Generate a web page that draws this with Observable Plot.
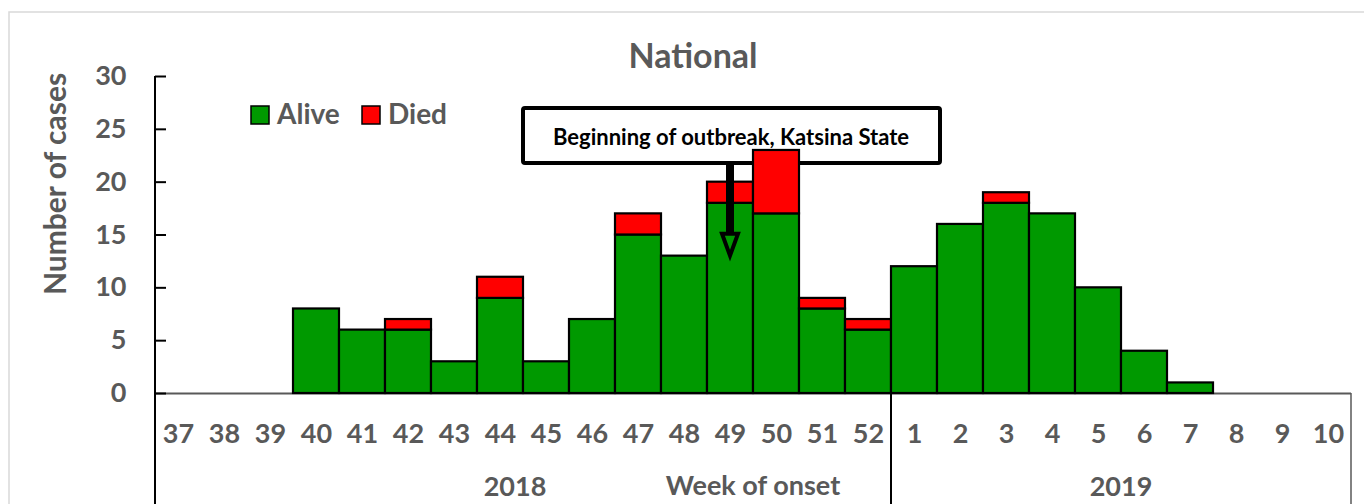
<!DOCTYPE html>
<html><head><meta charset="utf-8">
<script src="https://cdn.jsdelivr.net/npm/d3@7"></script>
<script src="https://cdn.jsdelivr.net/npm/@observablehq/plot@0.6"></script>
<style>body{margin:0;background:#fff}</style>
</head><body><div id="chart"></div>
<script>
const weeks = ["37","38","39","40","41","42","43","44","45","46","47","48","49","50","51","52","1","2","3","4","5","6","7","8","9","10"];
const alive = [0,0,0,8,6,6,3,9,3,7,15,13,18,17,8,6,12,16,18,17,10,4,1,0,0,0];
const died  = [0,0,0,0,0,1,0,2,0,0,2,0,2,6,1,1,0,0,1,0,0,0,0,0,0,0];
const statuses = ["Alive","Died"];
const colors = ["#009900","#ff0000"];
const yTicks = [0,5,10,15,20,25,30];
const yearLabels = ["2018","2019"];
const yearFirstWeek = ["37","1"];
const yearLastWeek = ["52","10"];
const titleText = "National";
const yLabel = "Number of cases";
const xLabel = "Week of onset";
const annotationText = "Beginning of outbreak, Katsina State";
const annotationWeek = "49";
const annotationTipValue = 13;

const rows = weeks.flatMap((w, i) => [
  {week: w, status: statuses[0], count: alive[i]},
  {week: w, status: statuses[1], count: died[i]}
]).filter(d => d.count > 0);

const gray = "#595959";
const font = "Lato, 'Open Sans', sans-serif";

const chart = Plot.plot({
  width: 1364, height: 504,
  marginLeft: 155, marginRight: 13, marginTop: 76, marginBottom: 111,
  style: {fontFamily: font, fontWeight: "bold", fontSize: "27px", color: gray, background: "white", overflow: "visible"},
  x: {domain: weeks, padding: 0, label: null},
  y: {domain: [0, 30], label: null},
  color: {domain: statuses, range: colors},
  marks: [
    Plot.ruleY([0], {stroke: gray, strokeWidth: 2}),
    Plot.barY(rows, {x: "week", y: "count", fill: "status", stroke: "black", strokeWidth: 2.2, className: "bars"}),
    Plot.axisX({tickSize: 0, tickPadding: 30, fontSize: 27, fontWeight: "bold", fill: gray}),
    Plot.axisY(yTicks, {tickSize: 0, tickPadding: 29, fontSize: 27, fontWeight: "bold", fill: gray}),
    Plot.tickY(yTicks, {y: d => d, x: () => weeks[0], insetRight: 35, stroke: "black", strokeWidth: 2})
  ]
});
document.getElementById("chart").append(chart);

const svg = d3.select(chart);
const xs = chart.scale("x");
const ys = chart.scale("y");
const bw = xs.bandwidth;
const x0 = xs.apply(weeks[0]);
const xEnd = xs.apply(weeks[weeks.length - 1]) + bw;
const yZero = ys.apply(0);
const yTop = ys.apply(30);

// annotation box (behind the bars)
const barsNode = chart.querySelector("g.bars") || chart.querySelector("g[aria-label='bar']");
const boxG = document.createElementNS("http://www.w3.org/2000/svg", "g");
chart.insertBefore(boxG, barsNode);
const box = d3.select(boxG);
box.append("rect").attr("x", 523).attr("y", 108).attr("width", 417).attr("height", 55).attr("rx", 2)
  .attr("fill", "white").attr("stroke", "black").attr("stroke-width", 4);
box.append("text").attr("x", 731).attr("y", 145).attr("text-anchor", "middle")
  .attr("font-family", font).attr("font-weight", "bold").attr("font-size", 22).attr("fill", "black").text(annotationText);

// outer chart border
svg.insert("rect", ":first-child").attr("x", 9).attr("y", 12).attr("width", 1500).attr("height", 600)
  .attr("fill", "none").attr("stroke", "#d9d9d9").attr("stroke-width", 1.5);

// y axis line extending down through category area
svg.append("line").attr("x1", x0).attr("x2", x0).attr("y1", yTop).attr("y2", 504)
  .attr("stroke", "black").attr("stroke-width", 2);
// year separators
const sepX = xs.apply(yearFirstWeek[1]);
svg.append("line").attr("x1", sepX).attr("x2", sepX).attr("y1", yZero).attr("y2", 504)
  .attr("stroke", "black").attr("stroke-width", 2);
svg.append("line").attr("x1", xEnd).attr("x2", xEnd).attr("y1", yZero).attr("y2", 504)
  .attr("stroke", gray).attr("stroke-width", 1.5);

// year labels
yearLabels.forEach((yl, i) => {
  const a = xs.apply(yearFirstWeek[i]);
  const b = xs.apply(yearLastWeek[i]) + bw;
  svg.append("text").attr("x", i === 0 ? (a + b) / 2 - 8 : (a + b) / 2).attr("y", 496)
    .attr("text-anchor", "middle").attr("font-family", font).attr("font-weight", "bold")
    .attr("font-size", 27).attr("fill", gray).text(yl);
});
// x label
svg.append("text").attr("x", (x0 + xEnd) / 2).attr("y", 495)
  .attr("text-anchor", "middle").attr("font-family", font).attr("font-weight", "bold")
  .attr("font-size", 27).attr("fill", gray).text(xLabel);

// title
svg.append("text").attr("x", 693).attr("y", 68).attr("text-anchor", "middle")
  .attr("font-family", font).attr("font-weight", "bold").attr("font-size", 34).attr("fill", gray).text(titleText);

// y label
svg.append("text").attr("transform", "translate(66,184) rotate(-90)").attr("text-anchor", "middle")
  .attr("font-family", font).attr("font-weight", "bold").attr("font-size", 30).attr("fill", gray).text(yLabel);

// legend
const legX = [251, 362];
statuses.forEach((s, i) => {
  svg.append("rect").attr("x", legX[i]).attr("y", 106).attr("width", 18).attr("height", 18)
    .attr("fill", colors[i]).attr("stroke", "black").attr("stroke-width", 1.5);
  svg.append("text").attr("x", legX[i] + 26).attr("y", 124).attr("text-anchor", "start").attr("font-family", font)
    .attr("font-weight", "bold").attr("font-size", 28).attr("fill", gray).text(s);
});

// arrow
const ax = xs.apply(annotationWeek) + bw / 2;
const tipY = ys.apply(annotationTipValue);
svg.append("line").attr("x1", ax).attr("x2", ax).attr("y1", 163).attr("y2", tipY - 22)
  .attr("stroke", "black").attr("stroke-width", 8);
svg.append("path").attr("d", `M${ax - 8},${tipY - 22} L${ax + 8},${tipY - 22} L${ax},${tipY} Z`)
  .attr("fill", "none").attr("stroke", "black").attr("stroke-width", 4).attr("stroke-linejoin", "miter");
</script>
</body></html>
